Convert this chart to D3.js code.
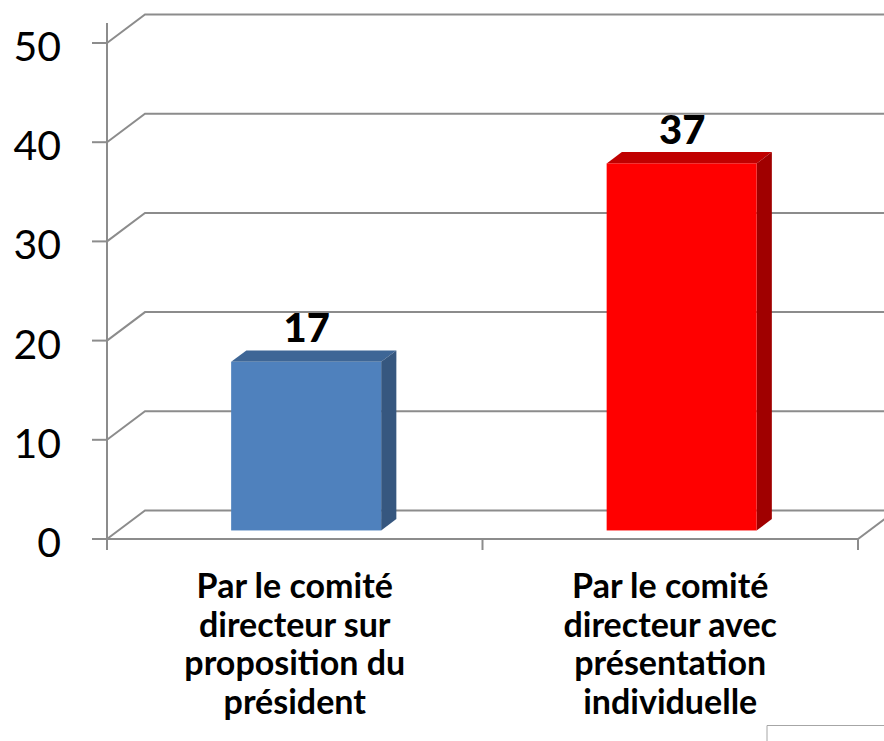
<!DOCTYPE html>
<html>
<head>
<meta charset="utf-8">
<script src="https://cdn.jsdelivr.net/npm/d3@7"></script>
<style>
  body { margin: 0; background: #fff; }
  svg { display: block; }
</style>
</head>
<body>
<svg></svg>
<script>
// data
var categories = ["Par le comité directeur sur proposition du président",
                  "Par le comité directeur avec présentation individuelle"];
var labelLines = [["Par le comité", "directeur sur", "proposition du", "président"],
                  ["Par le comité", "directeur avec", "présentation", "individuelle"]];
var values = [17, 37];
var yTicks = [0, 10, 20, 30, 40, 50];

var frontColors = ["#4F81BD", "#FF0000"];
var topColors = ["#3E6696", "#C00000"];
var sideColors = ["#36577F", "#A00000"];

var svgWidth = 884, svgHeight = 741;
var depthX = 38, depthY = -28.5;   // 3d offset of the back wall
var barFront = 0.3, barBack = 0.7;  // bar position inside the depth

var svg = d3.select('svg')
    .attr("width", svgWidth)
    .attr("height", svgHeight);

var yScale = d3.scaleLinear()
    .domain([0, 50])
    .range([539, 43]);

var xScale = d3.scaleBand()
    .domain(categories)
    .range([107, 858]);

var gridColor = "#8c8c8c";

// gridlines: front corner to back wall then across
svg.selectAll(".grid")
    .data(yTicks)
    .enter()
    .append("polyline")
    .attr("class", "grid")
    .attr("points", function(d) {
        var y = yScale(d);
        return [[107, y], [107 + depthX, y + depthY], [svgWidth + 20, y + depthY]].join(" ");
    })
    .attr("fill", "none")
    .attr("stroke", gridColor)
    .attr("stroke-width", 2);

// floor front edge and right edge
svg.append("polyline")
    .attr("points", [[107, yScale(0)], [858, yScale(0)], [858 + depthX, yScale(0) + depthY]].join(" "))
    .attr("fill", "none")
    .attr("stroke", gridColor)
    .attr("stroke-width", 2);

// y axis
svg.append("line")
    .attr("x1", 107).attr("x2", 107)
    .attr("y1", 23).attr("y2", 550)
    .attr("stroke", gridColor)
    .attr("stroke-width", 2);

svg.selectAll(".ytick")
    .data(yTicks)
    .enter()
    .append("line")
    .attr("class", "ytick")
    .attr("x1", 92).attr("x2", 107)
    .attr("y1", function(d) { return yScale(d); })
    .attr("y2", function(d) { return yScale(d); })
    .attr("stroke", gridColor)
    .attr("stroke-width", 2);

svg.selectAll(".ylabel")
    .data(yTicks)
    .enter()
    .append("text")
    .attr("class", "ylabel")
    .attr("x", 61)
    .attr("y", function(d) { return yScale(d) + 18; })
    .attr("text-anchor", "end")
    .style("font-family", "Lato, sans-serif")
    .style("font-size", "41px")
    .attr("fill", "#000")
    .text(function(d) { return d; });

// x ticks at band edges
var xEdges = [107, 107 + xScale.bandwidth(), 858];
svg.selectAll(".xtick")
    .data(xEdges)
    .enter()
    .append("line")
    .attr("class", "xtick")
    .attr("x1", function(d) { return d; })
    .attr("x2", function(d) { return d; })
    .attr("y1", yScale(0))
    .attr("y2", 550)
    .attr("stroke", gridColor)
    .attr("stroke-width", 2);

// bars
var barWidth = 150;
var offX = depthX * barFront, offY = depthY * barFront;
var sideX = depthX * (barBack - barFront), sideY = depthY * (barBack - barFront);

var bars = svg.selectAll(".bar")
    .data(values)
    .enter()
    .append("g")
    .attr("class", "bar");

function frontLeft(i) {
    return xScale(categories[i]) + xScale.bandwidth() / 2 - barWidth / 2 + offX;
}

bars.append("polygon")
    .attr("points", function(d, i) {
        var x0 = frontLeft(i), x1 = x0 + barWidth, yt = yScale(d) + offY;
        return [[x0, yt], [x1, yt], [x1 + sideX, yt + sideY], [x0 + sideX, yt + sideY]].join(" ");
    })
    .attr("fill", function(d, i) { return topColors[i]; });

bars.append("polygon")
    .attr("points", function(d, i) {
        var x1 = frontLeft(i) + barWidth, yt = yScale(d) + offY, yb = yScale(0) + offY;
        return [[x1, yt], [x1 + sideX, yt + sideY], [x1 + sideX, yb + sideY], [x1, yb]].join(" ");
    })
    .attr("fill", function(d, i) { return sideColors[i]; });

bars.append("rect")
    .attr("x", function(d, i) { return frontLeft(i); })
    .attr("y", function(d) { return yScale(d) + offY; })
    .attr("width", barWidth)
    .attr("height", function(d) { return yScale(0) - yScale(d); })
    .attr("fill", function(d, i) { return frontColors[i]; });

// value labels
svg.selectAll(".value")
    .data(values)
    .enter()
    .append("text")
    .attr("class", "value")
    .attr("x", function(d, i) { return xScale(categories[i]) + xScale.bandwidth() / 2 + 12; })
    .attr("y", function(d) { return yScale(d) - 28; })
    .attr("text-anchor", "middle")
    .style("font-family", "Lato, sans-serif")
    .style("font-weight", "900")
    .style("font-size", "40px")
    .attr("fill", "#000")
    .text(function(d) { return d; });

// category labels
var catLabels = svg.selectAll(".cat")
    .data(categories)
    .enter()
    .append("text")
    .attr("class", "cat")
    .attr("x", function(d) { return xScale(d) + xScale.bandwidth() / 2; })
    .attr("y", 598)
    .attr("text-anchor", "middle")
    .style("font-family", "Lato, sans-serif")
    .style("font-weight", "bold")
    .style("font-size", "34px")
    .attr("fill", "#000");

catLabels.selectAll("tspan")
    .data(function(d, i) { return labelLines[i]; })
    .enter()
    .append("tspan")
    .attr("x", function() { return d3.select(this.parentNode).attr("x"); })
    .attr("dy", function(d, j) { return j === 0 ? 0 : 38.5; })
    .text(function(d) { return d; });

// leftover frame corner at bottom right
svg.append("polyline")
    .attr("points", [[767, 741], [767, 725.5], [svgWidth, 725.5]].join(" "))
    .attr("fill", "none")
    .attr("stroke", "#a6a6a6")
    .attr("stroke-width", 1);
</script>
</body>
</html>
